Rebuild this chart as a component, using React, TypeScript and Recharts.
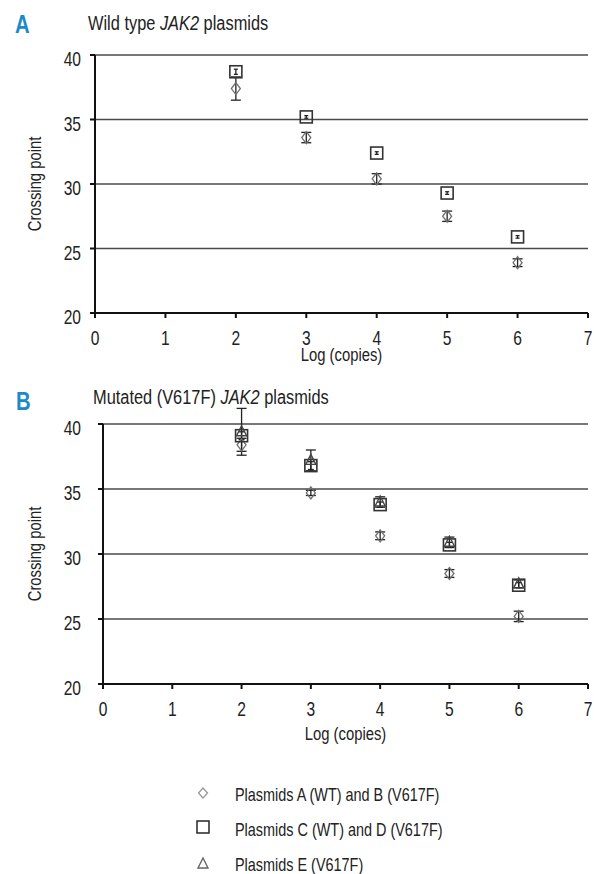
import { ScatterChart, Scatter, XAxis, YAxis, CartesianGrid, ErrorBar } from "recharts";

const fontFamily = "'Liberation Sans', Arial, sans-serif";
const SX = 0.78; // horizontal squeeze to mimic the condensed face

const logCopies = [2, 3, 4, 5, 6];
const xTicks = [0, 1, 2, 3, 4, 5, 6, 7];
const yTicks = [20, 25, 30, 35, 40];

// A - wild type
const wtAB = [37.4, 33.6, 30.4, 27.5, 23.9];
const wtABErr = [0.9, 0.4, 0.4, 0.4, 0.3];
const wtCD = [38.7, 35.2, 32.4, 29.3, 25.9];
const wtCDErr = [0.2, 0.1, 0.1, 0.1, 0.1];

// B - mutated V617F
const mutAB = [38.4, 34.7, 31.4, 28.5, 25.2];
const mutABErr = [0.5, 0.2, 0.3, 0.3, 0.4];
const mutCD = [39.1, 36.8, 33.8, 30.7, 27.6];
const mutCDErr = [0.3, 0.3, 0.2, 0.2, 0.2];
const mutE = [39.4, 37.2, 34.0, 30.9, 27.7];
const mutEErr = [1.8, 0.8, 0.4, 0.4, 0.3];

const legendLabels = [
  "Plasmids A (WT) and B (V617F)",
  "Plasmids C (WT) and D (V617F)",
  "Plasmids E (V617F)",
];

const toPoints = (ys: number[], errs: number[]) =>
  logCopies.map((x, i) => ({ x, y: ys[i], err: errs[i] }));

function NarrowText({ x, y, size, anchor = "start", rotate = 0, fill = "#222", children, ...rest }: any) {
  return (
    <text
      transform={`translate(${x} ${y}) rotate(${rotate}) scale(${SX} 1)`}
      fontSize={size}
      fontFamily={fontFamily}
      textAnchor={anchor}
      fill={fill}
      {...rest}
    >
      {children}
    </text>
  );
}

const DiamondShape = (p: any) => (
  <path
    d={`M${p.cx},${p.cy - 6}L${p.cx + 4.5},${p.cy}L${p.cx},${p.cy + 6}L${p.cx - 4.5},${p.cy}Z`}
    fill="none"
    stroke="#6f6f6f"
    strokeWidth={1.3}
  />
);

const SquareShape = (p: any) => (
  <rect x={p.cx - 6} y={p.cy - 6} width={12} height={12} fill="none" stroke="#333" strokeWidth={1.6} />
);

const TriangleShape = (p: any) => (
  <path
    d={`M${p.cx},${p.cy - 6}L${p.cx + 5},${p.cy + 4}L${p.cx - 5},${p.cy + 4}Z`}
    fill="none"
    stroke="#444"
    strokeWidth={1.4}
  />
);

type Series = { name: string; data: { x: number; y: number; err: number }[]; shape: any; capWidth: number };

interface PanelProps {
  top: number;
  height: number;
  marginTop: number;
  axisWidth: number;
  yTickMargin: number;
  xAxisHeight: number;
  labelOffset: number;
  series: Series[];
}

function Panel({ top, height, marginTop, axisWidth, yTickMargin, xAxisHeight, labelOffset, series }: PanelProps) {
  return (
    <div style={{ position: "absolute", left: 0, top }}>
      <ScatterChart width={594} height={height} margin={{ top: marginTop, right: 6, bottom: 0, left: 0 }}>
        <CartesianGrid vertical={false} stroke="#4a4a4a" strokeWidth={1.5} />
        <XAxis
          type="number"
          dataKey="x"
          domain={[0, 7]}
          ticks={xTicks}
          height={xAxisHeight}
          stroke="#111"
          strokeWidth={2}
          tickSize={5}
          tickMargin={13}
          tick={(p: any) => (
            <NarrowText x={p.x} y={p.y} size={20} anchor="middle" dy="0.72em">
              {p.payload.value}
            </NarrowText>
          )}
          label={{
            content: (props: any) => {
              const vb = props.viewBox;
              return (
                <NarrowText x={vb.x + vb.width / 2} y={vb.y + vb.height - labelOffset} size={19} anchor="middle">
                  Log (copies)
                </NarrowText>
              );
            },
          }}
        />
        <YAxis
          type="number"
          dataKey="y"
          domain={[20, 40]}
          ticks={yTicks}
          allowDataOverflow
          width={axisWidth}
          stroke="#111"
          strokeWidth={2}
          tickSize={5}
          tickMargin={yTickMargin}
          tick={(p: any) => (
            <NarrowText x={p.x} y={p.y + 4} size={20} anchor="end" dy="0.36em">
              {p.payload.value}
            </NarrowText>
          )}
          label={{
            content: (props: any) => {
              const vb = props.viewBox;
              return (
                <NarrowText
                  x={vb.x + 35}
                  y={vb.y + vb.height / 2}
                  rotate={-90}
                  size={19}
                  anchor="middle"
                  dominantBaseline="central"
                >
                  Crossing point
                </NarrowText>
              );
            },
          }}
        />
        {series.map((s) => (
          <Scatter key={s.name} name={s.name} data={s.data} shape={s.shape} isAnimationActive={false}>
            <ErrorBar dataKey="err" direction="y" width={s.capWidth} stroke="#222" strokeWidth={1.3} />
          </Scatter>
        ))}
      </ScatterChart>
    </div>
  );
}

export default function App() {
  const seriesA: Series[] = [
    { name: "AB", data: toPoints(wtAB, wtABErr), shape: DiamondShape, capWidth: 5 },
    { name: "CD", data: toPoints(wtCD, wtCDErr), shape: SquareShape, capWidth: 2 },
  ];
  const seriesB: Series[] = [
    { name: "AB", data: toPoints(mutAB, mutABErr), shape: DiamondShape, capWidth: 5 },
    { name: "CD", data: toPoints(mutCD, mutCDErr), shape: SquareShape, capWidth: 3 },
    { name: "E", data: toPoints(mutE, mutEErr), shape: TriangleShape, capWidth: 5 },
  ];

  return (
    <div style={{ position: "absolute", left: 0, top: 0, width: 594, height: 874, background: "#fff" }}>
      <style>{`.recharts-surface [clip-path]{clip-path:none}`}</style>
      <Panel
        top={0}
        height={370}
        marginTop={55}
        axisWidth={95}
        yTickMargin={9}
        xAxisHeight={57}
        labelOffset={9}
        series={seriesA}
      />
      <Panel
        top={370}
        height={380}
        marginTop={54}
        axisWidth={103}
        yTickMargin={17}
        xAxisHeight={66}
        labelOffset={10}
        series={seriesB}
      />
      <svg width={594} height={874} style={{ position: "absolute", left: 0, top: 0, pointerEvents: "none" }}>
        <NarrowText x={15} y={33} size={26} fontWeight="bold" fill="#1b8bc8">A</NarrowText>
        <NarrowText x={88} y={30} size={21}>
          Wild type <tspan fontStyle="italic">JAK2</tspan> plasmids
        </NarrowText>
        <NarrowText x={16} y={410} size={26} fontWeight="bold" fill="#1b8bc8">B</NarrowText>
        <NarrowText x={93} y={404} size={21}>
          Mutated (V617F) <tspan fontStyle="italic">JAK2</tspan> plasmids
        </NarrowText>

        <path d="M203,788L207.5,793L203,798L198.5,793Z" fill="none" stroke="#999" strokeWidth={1.3} />
        <rect x={197} y={821} width={12} height={12} fill="none" stroke="#333" strokeWidth={1.6} />
        <path d="M203,858L208,868L198,868Z" fill="none" stroke="#666" strokeWidth={1.4} />
        {legendLabels.map((l, i) => (
          <NarrowText key={l} x={235} y={[801, 836, 871][i]} size={18.5}>
            {l}
          </NarrowText>
        ))}
      </svg>
    </div>
  );
}
